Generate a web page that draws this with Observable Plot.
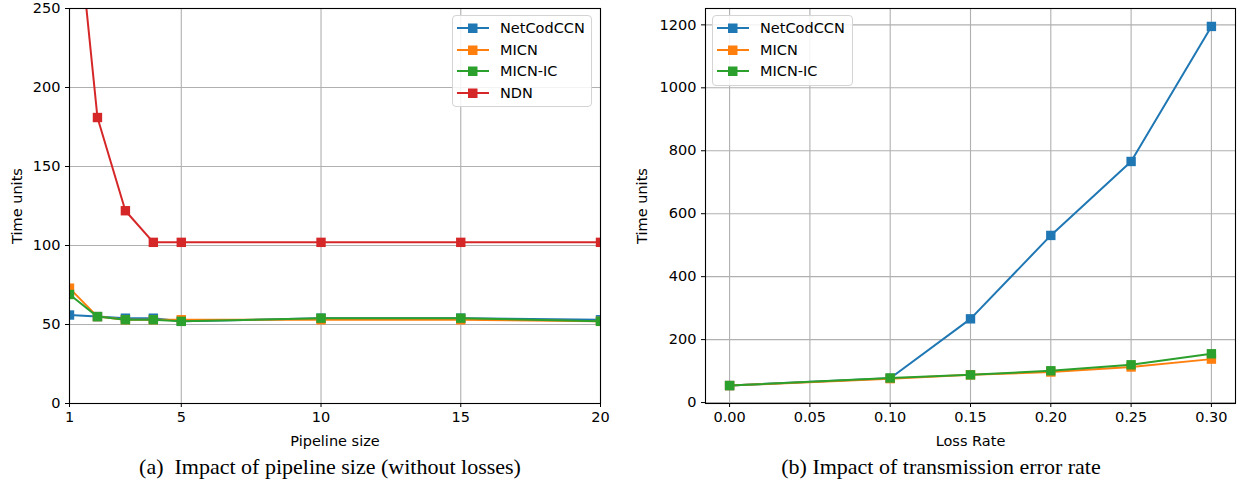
<!DOCTYPE html>
<html>
<head>
<meta charset="utf-8">
<script src="https://cdn.jsdelivr.net/npm/d3@7"></script>
<script src="https://cdn.jsdelivr.net/npm/@observablehq/plot@0.6"></script>
<style>
  html, body { margin: 0; padding: 0; background: #fff; }
  body { width: 1241px; height: 489px; position: relative; overflow: hidden; font-family: "DejaVu Sans", sans-serif; }
  .panel { position: absolute; top: 0; }
  .legend { position: absolute; border: 1px solid #d4d4d4; border-radius: 4px; background: rgba(255,255,255,0.85); box-sizing: border-box; }
  .lrow { position: absolute; left: 0; height: 20px; }
  .lrow svg { position: absolute; left: 4px; top: 5px; }
  .lrow span { position: absolute; left: 47px; top: 0; line-height: 20px; font-size: 14.5px; font-family: "DejaVu Sans", sans-serif; color: #000; white-space: nowrap; }
  .caption { position: absolute; width: 600px; text-align: center; font-family: "Liberation Serif", "Times New Roman", serif; font-size: 22px; line-height: 26px; color: #000; white-space: pre; }
</style>
</head>
<body>
<div id="a" class="panel" style="left:0px"></div>
<div id="b" class="panel" style="left:620px"></div>
<script>
// ---------- data ----------
const seriesNames = ["NetCodCCN", "MICN", "MICN-IC", "NDN"];
const seriesColors = ["#1f77b4", "#ff7f0e", "#2ca02c", "#d62728"];

// (a) pipeline size
const pipelineSize = [1, 2, 3, 4, 5, 10, 15, 20];
const pipeNetCodCCN = [56, 55, 54, 54, 52, 54, 54, 53];
const pipeMICN      = [73, 55, 53, 53, 53, 53, 53, 52];
const pipeMICNIC    = [69, 55, 53, 53, 52, 54, 54, 52];
const pipeNDN       = [356, 181, 122, 102, 102, 102, 102, 102];
const pipeXTicks = [1, 5, 10, 15, 20];
const pipeYTicks = [0, 50, 100, 150, 200, 250];

// (b) loss rate
const lossRate = [0.00, 0.10, 0.15, 0.20, 0.25, 0.30];
const lossNetCodCCN = [54, 77, 266, 531, 766, 1195];
const lossMICN      = [54, 76, 88, 97, 113, 138];
const lossMICNIC    = [54, 78, 88, 101, 120, 155];
const lossXTicks = [0.00, 0.05, 0.10, 0.15, 0.20, 0.25, 0.30];
const lossYTicks = [0, 200, 400, 600, 800, 1000, 1200];

const captionA = "(a)  Impact of pipeline size (without losses)";
const captionB = "(b) Impact of transmission error rate";

// ---------- helpers ----------
function toRows(xs, ys) { return xs.map((x, i) => ({x, y: ys[i]})); }

function seriesMarks(list) {
  const marks = [];
  for (const s of list) {
    const rows = toRows(s.xs, s.ys);
    marks.push(Plot.line(rows, {x: "x", y: "y", stroke: s.color, strokeWidth: 2, clip: true}));
    marks.push(Plot.dot(rows, {x: "x", y: "y", symbol: "square", fill: s.color, r: 5.3, clip: true}));
  }
  return marks;
}

const baseStyle = {fontFamily: "DejaVu Sans, sans-serif", fontSize: "14.5px", color: "#000", background: "transparent", overflow: "visible"};
const gridStyle = {stroke: "#b0b0b0", strokeOpacity: 1, strokeWidth: 1.1};

// ---------- chart (a) ----------
const chartA = Plot.plot({
  width: 620, height: 450,
  marginLeft: 69, marginRight: 20, marginTop: 8, marginBottom: 47,
  style: baseStyle,
  x: {domain: [1, 20]},
  y: {domain: [0, 250]},
  marks: [
    Plot.gridX(pipeXTicks, gridStyle),
    Plot.gridY(pipeYTicks, gridStyle),
    ...seriesMarks([
      {xs: pipelineSize, ys: pipeNetCodCCN, color: seriesColors[0]},
      {xs: pipelineSize, ys: pipeMICN, color: seriesColors[1]},
      {xs: pipelineSize, ys: pipeMICNIC, color: seriesColors[2]},
      {xs: pipelineSize, ys: pipeNDN, color: seriesColors[3]}
    ]),
    Plot.frame({stroke: "#000", strokeWidth: 1.1}),
    Plot.axisX({ticks: pipeXTicks, tickSize: 4, tickPadding: 4, label: "Pipeline size", labelAnchor: "center", labelArrow: "none", labelOffset: 42}),
    Plot.axisY({ticks: pipeYTicks, tickSize: 4, tickPadding: 5, label: "Time units", labelAnchor: "center", labelArrow: "none", labelOffset: 58})
  ]
});
document.getElementById("a").appendChild(chartA);

// ---------- chart (b) ----------
const chartB = Plot.plot({
  width: 621, height: 450,
  marginLeft: 85, marginRight: 6, marginTop: 8, marginBottom: 47,
  style: baseStyle,
  x: {domain: [-0.015, 0.315]},
  y: {domain: [-3, 1252]},
  marks: [
    Plot.gridX(lossXTicks, gridStyle),
    Plot.gridY(lossYTicks, gridStyle),
    ...seriesMarks([
      {xs: lossRate, ys: lossNetCodCCN, color: seriesColors[0]},
      {xs: lossRate, ys: lossMICN, color: seriesColors[1]},
      {xs: lossRate, ys: lossMICNIC, color: seriesColors[2]}
    ]),
    Plot.frame({stroke: "#000", strokeWidth: 1.1}),
    Plot.axisX({ticks: lossXTicks, tickFormat: d3.format(".2f"), tickSize: 4, tickPadding: 4, label: "Loss Rate", labelAnchor: "center", labelArrow: "none", labelOffset: 42}),
    Plot.axisY({ticks: lossYTicks, tickFormat: d3.format("d"), tickSize: 4, tickPadding: 5, label: "Time units", labelAnchor: "center", labelArrow: "none", labelOffset: 69})
  ]
});
document.getElementById("b").appendChild(chartB);

// ---------- legends ----------
function makeLegend(left, top, width, names, colors) {
  const box = document.createElement("div");
  box.className = "legend";
  box.style.left = left + "px";
  box.style.top = top + "px";
  box.style.width = width + "px";
  box.style.height = (names.length * 21.6 + 6) + "px";
  names.forEach((name, i) => {
    const row = document.createElement("div");
    row.className = "lrow";
    row.style.top = (2 + i * 21.6) + "px";
    row.style.width = width + "px";
    row.innerHTML = `<svg width="34" height="10"><line x1="0" x2="32" y1="5" y2="5" stroke="${colors[i]}" stroke-width="2"/><rect x="11" y="0.5" width="9.5" height="9.5" fill="${colors[i]}"/></svg><span></span>`;
    row.querySelector("span").textContent = name;
    box.appendChild(row);
  });
  document.body.appendChild(box);
}
makeLegend(452, 15, 140, seriesNames, seriesColors);
makeLegend(712, 15, 141, seriesNames.slice(0, 3), seriesColors.slice(0, 3));

// ---------- captions ----------
function makeCaption(text, cx, top) {
  const d = document.createElement("div");
  d.className = "caption";
  d.style.left = (cx - 300) + "px";
  d.style.top = top + "px";
  d.textContent = text;
  document.body.appendChild(d);
}
makeCaption(captionA, 330, 454);
makeCaption(captionB, 941, 454);
</script>
</body>
</html>
